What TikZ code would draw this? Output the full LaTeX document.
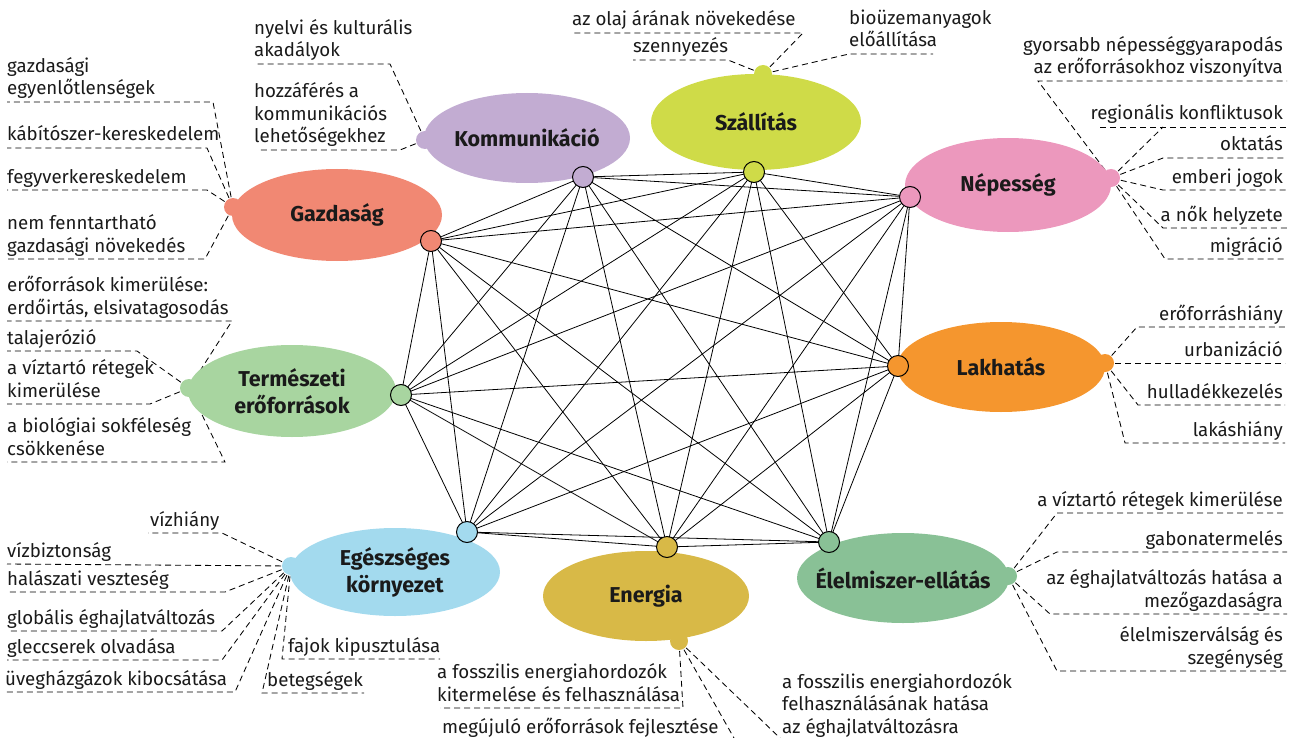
\documentclass[tikz,border=0pt]{standalone}
\usepackage{fontspec}
\setmainfont{Fira Sans}
\usetikzlibrary{shapes.geometric}

\definecolor{cKom}{HTML}{C2ACD2}
\definecolor{cSza}{HTML}{CFDB48}
\definecolor{cNep}{HTML}{EC98BD}
\definecolor{cGaz}{HTML}{F18873}
\definecolor{cLak}{HTML}{F5962E}
\definecolor{cTer}{HTML}{A8D5A0}
\definecolor{cEgs}{HTML}{A3DAEE}
\definecolor{cEne}{HTML}{D8B947}
\definecolor{cEle}{HTML}{89C196}
\definecolor{ink}{HTML}{1A1A1A}

\begin{document}
\begin{tikzpicture}[x=1pt,y=-1pt,
  blob/.style={ellipse, inner sep=0pt, draw=none},
  topic/.style={inner sep=0pt, align=center, text=ink,
    font=\fontsize{21.5}{27}\selectfont\bfseries},
  bump/.style={circle, inner sep=0pt, minimum size=18pt},
  hub/.style={circle, draw=black, line width=1pt, inner sep=0pt, minimum size=21pt},
  link/.style={line width=0.8pt, black},
  leader/.style={dash pattern=on 6pt off 4pt, line width=0.85pt, black},
  lbl/.style={inner sep=0pt, text=ink, font=\fontsize{18.7}{22.5}\selectfont},
  lblL/.style={lbl, anchor=base west, align=left},
  lblR/.style={lbl, anchor=base east, align=right},
]
\useasboundingbox (0,0) rectangle (1297,738);

% hub points (edge ends) and bump points (leader ends)
\coordinate (kom-h) at (583,177);  \coordinate (kom-b) at (425,140);
\coordinate (sza-h) at (754,172);  \coordinate (sza-b) at (763,74);
\coordinate (nep-h) at (910,197);  \coordinate (nep-b) at (1111,178);
\coordinate (lak-h) at (898,366);  \coordinate (lak-b) at (1105,363);
\coordinate (ele-h) at (829,542);  \coordinate (ele-b) at (1008,576);
\coordinate (ene-h) at (667,547);  \coordinate (ene-b) at (679,641);
\coordinate (egs-h) at (467,532);  \coordinate (egs-b) at (291,566);
\coordinate (ter-h) at (401,395);  \coordinate (ter-b) at (189,388);
\coordinate (gaz-h) at (431,241);  \coordinate (gaz-b) at (233,207);

% dashed leaders: bump -> bend -> underline
\draw[leader] (gaz-b) -- (213,102) -- (7,102);
\draw[leader] (gaz-b) -- (207,148) -- (7,148);
\draw[leader] (gaz-b) -- (207,190) -- (7,190);
\draw[leader] (gaz-b) -- (205,259) -- (7,259);

\draw[leader] (kom-b) -- (390,64) -- (254,64);
\draw[leader] (kom-b) -- (400,150) -- (259,150);

\draw[leader] (sza-b) -- (803,33) -- (572,33);
\draw[leader] (sza-b) -- (728,60) -- (633,60);
\draw[leader] (sza-b) -- (849,54) -- (933,54);

\draw[leader] (nep-b) -- (1038,81) -- (1287,81);
\draw[leader] (nep-b) -- (1163,127);
\draw[leader] (1100,127) -- (1287,127);
\draw[leader] (nep-b) -- (1163,158) -- (1287,158);
\draw[leader] (nep-b) -- (1163,190) -- (1287,190);
\draw[leader] (nep-b) -- (1163,228) -- (1287,228);
\draw[leader] (nep-b) -- (1165,259) -- (1287,259);

\draw[leader] (lak-b) -- (1137,327) -- (1285,327);
\draw[leader] (lak-b) -- (1285,363);
\draw[leader] (lak-b) -- (1138,405) -- (1285,405);
\draw[leader] (lak-b) -- (1125,443) -- (1285,443);

\draw[leader] (ter-b) -- (232,321) -- (7,321);
\draw[leader] (ter-b) -- (137,351) -- (7,351);
\draw[leader] (ter-b) -- (150,404) -- (7,404);
\draw[leader] (ter-b) -- (225,462) -- (7,462);

\draw[leader] (egs-b) -- (222,533) -- (148,533);
\draw[leader] (egs-b) -- (7,564);
\draw[leader] (egs-b) -- (225,592) -- (7,592);
\draw[leader] (egs-b) -- (222,631) -- (7,631);
\draw[leader] (egs-b) -- (222,660) -- (7,660);
\draw[leader] (egs-b) -- (235,692) -- (5,692);
\draw[leader] (egs-b) -- (282,659) -- (440,659);
\draw[leader] (egs-b) -- (262,693) -- (364,693);

\draw[leader] (ene-b) -- (683,708) -- (440,708);
\draw[leader] (ene-b) -- (734,738);
\draw[leader] (ene-b) -- (780,738);

\draw[leader] (ele-b) -- (1057,513) -- (1287,513);
\draw[leader] (ele-b) -- (1057,552) -- (1287,552);
\draw[leader] (ele-b) -- (1050,614) -- (1287,614);
\draw[leader] (ele-b) -- (1057,671) -- (1287,671);

% topic ellipses with their bumps
\node[blob, fill=cKom, minimum width=206pt, minimum height=90pt] (kom) at (527,138) {};
\node[blob, fill=cSza, minimum width=210pt, minimum height=96pt] (sza) at (756,122) {};
\node[blob, fill=cNep, minimum width=206pt, minimum height=94pt] (nep) at (1008,185) {};
\node[blob, fill=cGaz, minimum width=210pt, minimum height=92pt] (gaz) at (337,215) {};
\node[blob, fill=cLak, minimum width=208pt, minimum height=90pt] (lak) at (1001,367) {};
\node[blob, fill=cTer, minimum width=208pt, minimum height=92pt] (ter) at (292,391) {};
\node[blob, fill=cEgs, minimum width=210pt, minimum height=88pt] (egs) at (395,572) {};
\node[blob, fill=cEne, minimum width=206pt, minimum height=90pt] (ene) at (646,596) {};
\node[blob, fill=cEle, minimum width=212pt, minimum height=90pt] (ele) at (903,578) {};

\foreach \t/\c in {kom/cKom,sza/cSza,nep/cNep,gaz/cGaz,lak/cLak,ter/cTer,egs/cEgs,ene/cEne,ele/cEle}
  \node[bump, fill=\c] (\t-bump) at (\t-b) {};

% complete graph between the hubs
\foreach \a/\i in {kom/1,sza/2,nep/3,lak/4,ele/5,ene/6,egs/7,ter/8,gaz/9}{
  \foreach \b/\j in {kom/1,sza/2,nep/3,lak/4,ele/5,ene/6,egs/7,ter/8,gaz/9}{
    \ifnum\j>\i\relax
      \draw[link] (\a-h) -- (\b-h);
    \fi
  }
}
\foreach \t/\c in {kom/cKom,sza/cSza,nep/cNep,gaz/cGaz,lak/cLak,ter/cTer,egs/cEgs,ene/cEne,ele/cEle}
  \node[hub, fill=\c] (\t-hub) at (\t-h) {};

% topic titles
\node[topic] (kom-t) at (kom) {Kommunikáció};
\node[topic] (sza-t) at (sza) {Szállítás};
\node[topic] (nep-t) at (nep) {Népesség};
\node[topic] (gaz-t) at (gaz) {Gazdaság};
\node[topic] (lak-t) at (lak) {Lakhatás};
\node[topic] (ter-t) at (ter) {Természeti\\erőforrások};
\node[topic] (egs-t) at (egs) {Egészséges\\környezet};
\node[topic] (ene-t) at (ene) {Energia};
\node[topic] (ele-t) at (ele) {Élelmiszer-ellátás};

% labels (anchored at the baseline of their last line)
% Gazdaság
\node[lblL] (g1) at (7,95) {gazdasági\\egyenlőtlenségek};
\node[lblL] (g2) at (7,141) {kábítószer-kereskedelem};
\node[lblL] (g3) at (7,183) {fegyverkereskedelem};
\node[lblL] (g4) at (7,252) {nem fenntartható\\gazdasági növekedés};
% Kommunikáció
\node[lblL] (k1) at (254,57) {nyelvi és kulturális\\akadályok};
\node[lblL] (k2) at (254,143) {hozzáférés a\\kommunikációs\\lehetőségekhez};
% Szállítás
\node[lblL] (s1) at (572,26) {az olaj árának növekedése};
\node[lblL] (s2) at (633,53) {szennyezés};
\node[lblL] (s3) at (849,47) {bioüzemanyagok\\előállítása};
% Népesség
\node[lblR] (n1) at (1283,74) {gyorsabb népességgyarapodás\\az erőforrásokhoz viszonyítva};
\node[lblR] (n2) at (1283,120) {regionális konfliktusok};
\node[lblR] (n3) at (1283,151) {oktatás};
\node[lblR] (n4) at (1283,183) {emberi jogok};
\node[lblR] (n5) at (1283,221) {a nők helyzete};
\node[lblR] (n6) at (1283,252) {migráció};
% Lakhatás
\node[lblR] (l1) at (1283,320) {erőforráshiány};
\node[lblR] (l2) at (1283,356) {urbanizáció};
\node[lblR] (l3) at (1283,398) {hulladékkezelés};
\node[lblR] (l4) at (1283,436) {lakáshiány};
% Természeti erőforrások
\node[lblL] (t1) at (7,314) {erőforrások kimerülése:\\erdőirtás, elsivatagosodás};
\node[lblL] (t2) at (7,344) {talajerózió};
\node[lblL] (t3) at (7,397) {a víztartó rétegek\\kimerülése};
\node[lblL] (t4) at (7,455) {a biológiai sokféleség\\csökkenése};
% Egészséges környezet
\node[lblL] (e1) at (150,526) {vízhiány};
\node[lblL] (e2) at (7,557) {vízbiztonság};
\node[lblL] (e3) at (7,585) {halászati veszteség};
\node[lblL] (e4) at (7,624) {globális éghajlatváltozás};
\node[lblL] (e5) at (7,653) {gleccserek olvadása};
\node[lblL] (e6) at (5,685) {üvegházgázok kibocsátása};
\node[lblL] (e7) at (288,652) {fajok kipusztulása};
\node[lblL] (e8) at (267,686) {betegségek};
% Energia
\node[lblL] (en1) at (437,701) {a fosszilis energiahordozók\\kitermelése és felhasználása};
\node[lblL] (en2) at (442,733) {megújuló erőforrások fejlesztése};
\node[lblL] (en3) at (782,733) {a fosszilis energiahordozók\\felhasználásának hatása\\az éghajlatváltozásra};
% Élelmiszer-ellátás
\node[lblR] (f1) at (1283,506) {a víztartó rétegek kimerülése};
\node[lblR] (f2) at (1283,545) {gabonatermelés};
\node[lblR] (f3) at (1283,607) {az éghajlatváltozás hatása a\\mezőgazdaságra};
\node[lblR] (f4) at (1283,664) {élelmiszerválság és\\szegénység};
\end{tikzpicture}
\end{document}
